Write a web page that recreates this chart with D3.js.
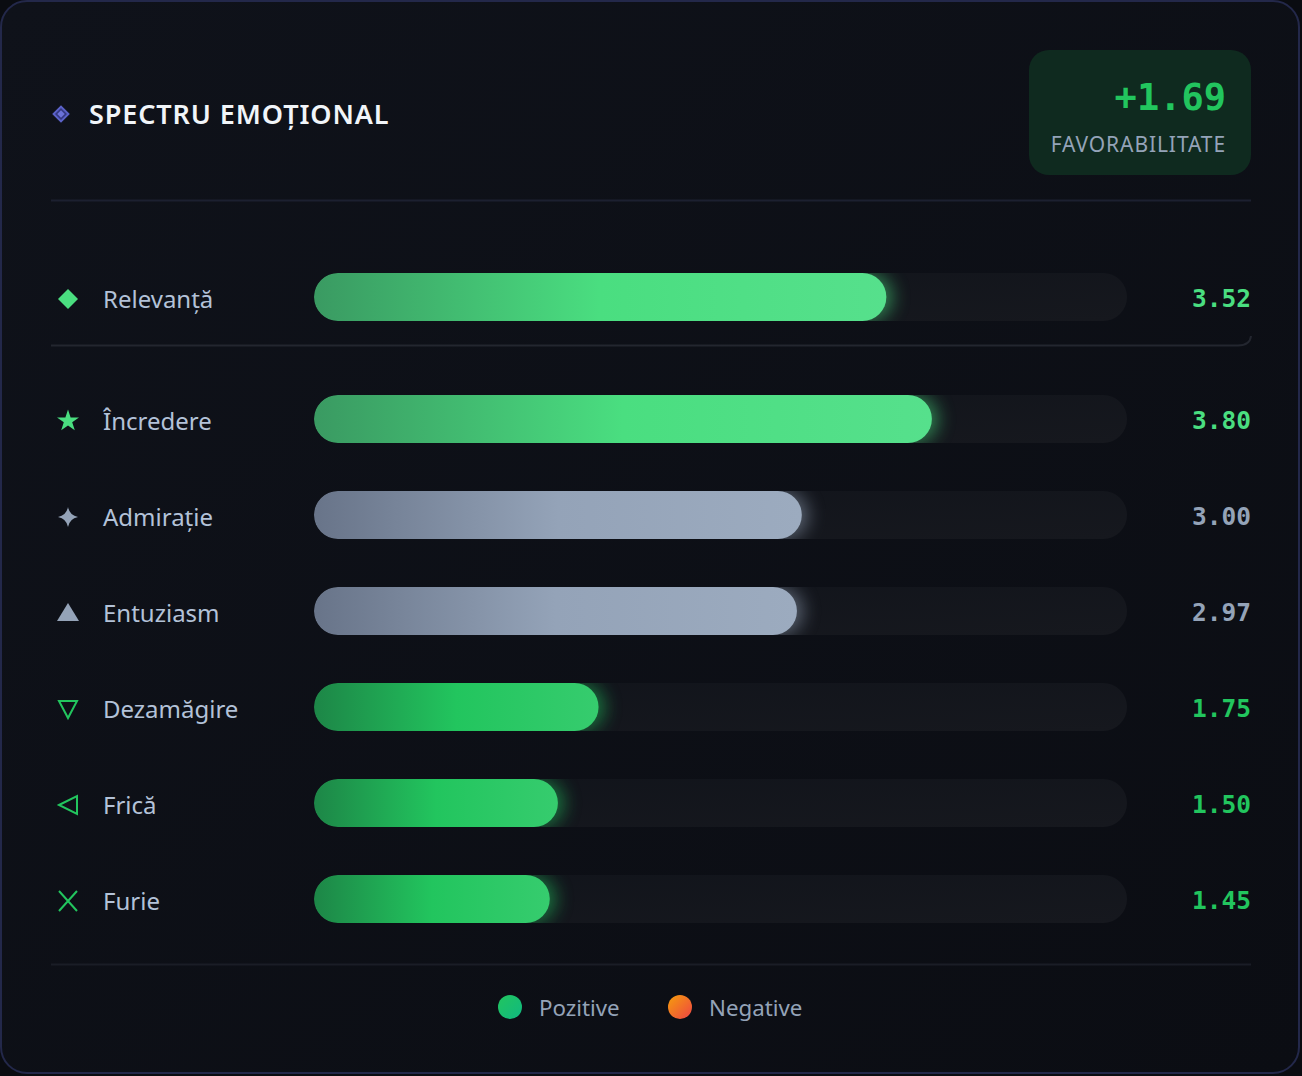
<!DOCTYPE html>
<html><head><meta charset="utf-8">
<script src="https://cdn.jsdelivr.net/npm/d3@7/dist/d3.min.js"></script>
<style>
html,body{margin:0;padding:0;background:#0a0c11;}
svg{display:block;}
</style></head>
<body>
<svg id="chart" width="1302" height="1076"></svg>
<script>
const title = "SPECTRU EMOȚIONAL";
const scoreLabel = "+1.69";
const scoreCaption = "FAVORABILITATE";
const categories = ["Relevanță","Încredere","Admirație","Entuziasm","Dezamăgire","Frică","Furie"];
const values = [3.52,3.80,3.00,2.97,1.75,1.50,1.45];
const valueLabels = ["3.52","3.80","3.00","2.97","1.75","1.50","1.45"];
const icons = ["diamond","star","sparkle","triangleUp","triangleDownOutline","triangleLeftOutline","cross"];
const tones = ["light","light","neutral","neutral","green","green","green"];
const domainMax = 5;
const legendLabels = ["Pozitive","Negative"];

const palette = {
  light:{left:"#3a9a62",mid:"#4ade80",right:"#56e08c",text:"#4ade80"},
  neutral:{left:"#687489",mid:"#94a3b8",right:"#9cabbf",text:"#94a3b8"},
  green:{left:"#1d8647",mid:"#22c55e",right:"#36cc6e",text:"#22c55e"}
};

const svg = d3.select("#chart");
const defs = svg.append("defs");

// card
const cardBg = defs.append("linearGradient").attr("id","cardbg").attr("x1",0).attr("y1",0).attr("x2",1).attr("y2",1);
cardBg.append("stop").attr("offset",0).attr("stop-color","#0f121a");
cardBg.append("stop").attr("offset",1).attr("stop-color","#0b0d13");
svg.append("rect").attr("x",1).attr("y",1).attr("width",1298).attr("height",1072).attr("rx",26)
  .attr("fill","url(#cardbg)").attr("stroke","#23284a").attr("stroke-width",2);

// header
const hdr = svg.append("g");
hdr.append("path").attr("d",d3.symbol(d3.symbolSquare,110)()).attr("transform","translate(61,114) rotate(45)")
  .attr("fill","#343880").attr("stroke","#5b62c8").attr("stroke-width",2);
hdr.append("path").attr("d",d3.symbol(d3.symbolSquare,28)()).attr("transform","translate(61,114) rotate(45)")
  .attr("fill","#6b72d8");
hdr.append("text").attr("x",89).attr("y",124).text(title)
  .attr("font-family","'Noto Sans', 'Open Sans', sans-serif").attr("font-weight",600)
  .attr("font-size",27).attr("letter-spacing",0.9).attr("fill","#f1f5f9");

hdr.append("rect").attr("x",1029).attr("y",50).attr("width",222).attr("height",125).attr("rx",20)
  .attr("fill","#0f2a1f");
hdr.append("text").attr("x",1226).attr("y",110).attr("text-anchor","end").text(scoreLabel)
  .attr("font-family","'DejaVu Sans Mono', monospace").attr("font-weight",700)
  .attr("font-size",37).attr("fill","#22c55e");
hdr.append("text").attr("x",1226).attr("y",152).attr("text-anchor","end").text(scoreCaption)
  .attr("font-family","'Noto Sans', 'Open Sans', sans-serif")
  .attr("font-size",21).attr("letter-spacing",0.9).attr("fill","#94a3b8");

svg.append("line").attr("x1",51).attr("x2",1251).attr("y1",200.5).attr("y2",200.5).attr("stroke","#1c2030").attr("stroke-width",2);
svg.append("line").attr("x1",51).attr("x2",1251).attr("y1",964.5).attr("y2",964.5).attr("stroke","#1a1d26").attr("stroke-width",2);
// highlighted first row bottom border
svg.append("path").attr("d","M51,345.5 L1238,345.5 Q1250,345.5 1251,336")
  .attr("fill","none").attr("stroke","#23262f").attr("stroke-width",2);

// scales
const x = d3.scaleLinear().domain([0,domainMax]).range([314,1127]);
const rowY = [297,419,515,611,707,803,899];
const y = d3.scaleOrdinal().domain(categories).range(rowY);
const barH = 48;

const glow = defs.append("filter").attr("id","glow").attr("x","-20%").attr("y","-100%").attr("width","140%").attr("height","300%");
glow.append("feGaussianBlur").attr("in","SourceGraphic").attr("stdDeviation",9);

const trackGrad = defs.append("linearGradient").attr("id","track").attr("x1",0).attr("x2",1).attr("y1",0).attr("y2",1);
trackGrad.append("stop").attr("offset",0).attr("stop-color","#11141b");
trackGrad.append("stop").attr("offset",1).attr("stop-color","#16181e");

const iconG = (g, type, color) => {
  if (type==="diamond") g.append("path").attr("d",d3.symbol(d3.symbolSquare,200)()).attr("transform","rotate(45)").attr("fill",color);
  else if (type==="star") g.append("path").attr("d",d3.symbol(d3.symbolStar,150)()).attr("fill",color);
  else if (type==="sparkle") {
    g.append("path").attr("d","M0,-10 Q1.6,-1.6 10,0 Q1.6,1.6 0,10 Q-1.6,1.6 -10,0 Q-1.6,-1.6 0,-10Z").attr("fill",color);
  }
  else if (type==="triangleUp") g.append("path").attr("d","M0,-10 L11,8 L-11,8Z").attr("fill",color);
  else if (type==="triangleDownOutline") g.append("path").attr("d","M-9,-8 L9,-8 L0,9Z").attr("fill","none").attr("stroke",color).attr("stroke-width",2);
  else if (type==="triangleLeftOutline") g.append("path").attr("d","M-9,0 L9,-9 L9,9Z").attr("fill","none").attr("stroke",color).attr("stroke-width",2);
  else if (type==="cross") g.append("path").attr("d","M-9,-10 L9,10 M9,-10 L-9,10").attr("fill","none").attr("stroke",color).attr("stroke-width",2);
};

const rows = svg.selectAll("g.row").data(categories.map((c,i)=>({c,v:values[i],lab:valueLabels[i],icon:icons[i],tone:tones[i],i})))
  .enter().append("g").attr("class","row");

rows.each(function(d){
  const g = d3.select(this);
  const cy = y(d.c);
  const p = palette[d.tone];
  const gid = "bg"+d.i;
  const lg = defs.append("linearGradient").attr("id",gid).attr("x1",0).attr("x2",1).attr("y1",0).attr("y2",0);
  lg.append("stop").attr("offset",0).attr("stop-color",p.left);
  lg.append("stop").attr("offset",0.5).attr("stop-color",p.mid);
  lg.append("stop").attr("offset",1).attr("stop-color",p.right);
  const cid = "clip"+d.i;
  defs.append("clipPath").attr("id",cid).append("rect")
    .attr("x",x(0)).attr("y",cy-barH/2).attr("width",x(domainMax)-x(0)).attr("height",barH).attr("rx",barH/2);

  iconG(g.append("g").attr("transform",`translate(68,${cy+2})`), d.icon, d.tone==="neutral"?"#94a3b8":(d.tone==="light"?"#4ade80":"#22c55e"));
  g.append("text").attr("x",103).attr("y",cy+11).text(d.c)
    .attr("font-family","'Noto Sans', 'Open Sans', sans-serif").attr("font-size",24).attr("fill","#b3c2d8");

  g.append("rect").attr("x",x(0)).attr("y",cy-barH/2).attr("width",x(domainMax)-x(0)).attr("height",barH).attr("rx",barH/2)
    .attr("fill","url(#track)");
  const bg = g.append("g").attr("clip-path",`url(#${cid})`);
  bg.append("rect").attr("x",x(0)).attr("y",cy-barH/2).attr("width",x(d.v)-x(0)+6).attr("height",barH).attr("rx",barH/2)
    .attr("fill",p.mid).attr("opacity",0.55).attr("filter","url(#glow)");
  bg.append("rect").attr("x",x(0)).attr("y",cy-barH/2).attr("width",x(d.v)-x(0)).attr("height",barH).attr("rx",barH/2)
    .attr("fill",`url(#${gid})`);

  g.append("text").attr("x",1251).attr("y",cy+10).attr("text-anchor","end").text(d.lab)
    .attr("font-family","'DejaVu Sans Mono', monospace").attr("font-weight",700)
    .attr("font-size",24.5).attr("fill",p.text);
});

// legend
const lgP = defs.append("linearGradient").attr("id","lp").attr("x1",0).attr("y1",0).attr("x2",1).attr("y2",1);
lgP.append("stop").attr("offset",0).attr("stop-color","#22c55e");
lgP.append("stop").attr("offset",1).attr("stop-color","#10b981");
const lgN = defs.append("linearGradient").attr("id","ln").attr("x1",0).attr("y1",0).attr("x2",1).attr("y2",1);
lgN.append("stop").attr("offset",0).attr("stop-color","#f59e0b");
lgN.append("stop").attr("offset",1).attr("stop-color","#ef4444");
const legend = svg.append("g");
const legX = [510,680];
legendLabels.forEach((l,i)=>{
  legend.append("circle").attr("cx",legX[i]).attr("cy",1007).attr("r",12).attr("fill",i===0?"url(#lp)":"url(#ln)");
  legend.append("text").attr("x",legX[i]+29).attr("y",1016).text(l)
    .attr("font-family","'Noto Sans', 'Open Sans', sans-serif").attr("font-size",22.3).attr("fill","#94a3b8");
});
</script>
</body></html>
